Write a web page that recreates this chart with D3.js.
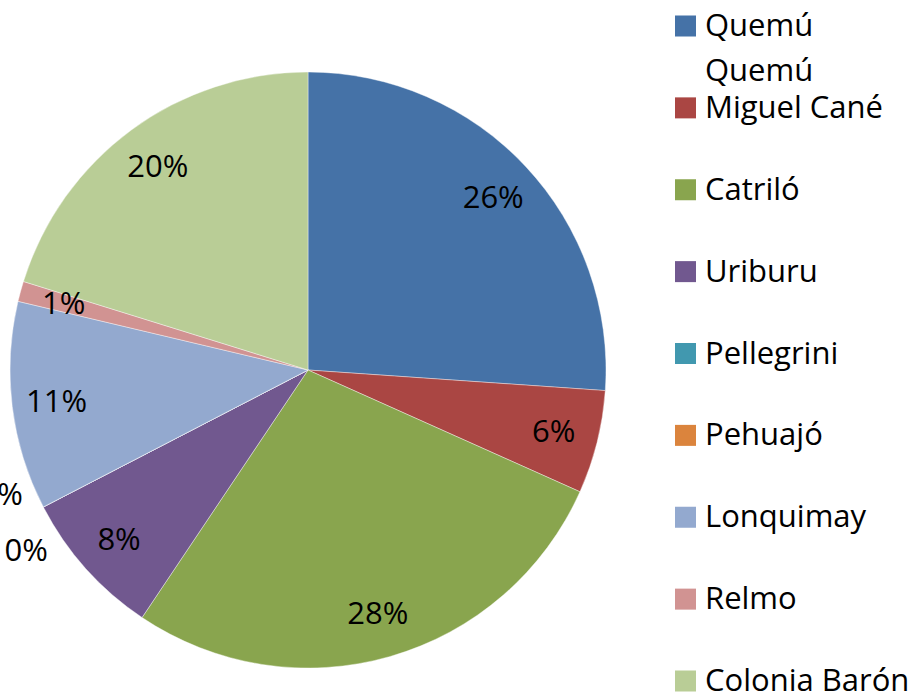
<!DOCTYPE html>
<html>
<head>
<meta charset="utf-8">
<script src="https://cdn.jsdelivr.net/npm/d3@7"></script>
<style>
  html, body { margin: 0; padding: 0; background: #fff; }
  svg { display: block; font-family: "Open Sans", Lato, sans-serif; }
</style>
</head>
<body>
<svg id="chart" width="920" height="694"></svg>
<script>
var categories = ['Quemú Quemú', 'Miguel Cané', 'Catriló', 'Uriburu', 'Pellegrini', 'Pehuajó', 'Lonquimay', 'Relmo', 'Colonia Barón'];
var values = [26.1, 5.6, 27.7, 8.0, 0, 0, 11.3, 1.1, 20.2];
var colors = ['#4572A7', '#AA4643', '#89A54E', '#71588F', '#4198AF', '#DB843D', '#93A9CF', '#D19392', '#B9CD96'];
var legendLines = [['Quemú', 'Quemú'], ['Miguel Cané'], ['Catriló'], ['Uriburu'], ['Pellegrini'], ['Pehuajó'], ['Lonquimay'], ['Relmo'], ['Colonia Barón']];

var svg = d3.select('#chart');
var cx = 308, cy = 370, radius = 298;
var fontSize = 31;

var data = categories.map(function (c, i) {
  return { name: c, value: values[i], color: colors[i], lines: legendLines[i] };
});

var pie = d3.pie().sort(null).value(function (d) { return d.value; });
var arcs = pie(data);
var arc = d3.arc().innerRadius(0).outerRadius(radius);
var labelArc = d3.arc().innerRadius(radius * 0.85).outerRadius(radius * 0.85);

var g = svg.append('g').attr('transform', 'translate(' + cx + ',' + cy + ')');

g.selectAll('path').data(arcs).enter().append('path')
  .attr('d', arc)
  .attr('fill', function (d) { return d.data.color; })
  .attr('stroke', '#fff')
  .attr('stroke-width', 0.4);

var total = d3.sum(values);
function pct(d) { return Math.round(d.data.value / total * 100) + '%'; }

// labels for non-empty slices sit inside
g.selectAll('text.inner').data(arcs.filter(function (d) { return d.data.value > 0; }))
  .enter().append('text')
  .attr('class', 'inner')
  .attr('transform', function (d) { return 'translate(' + labelArc.centroid(d) + ')'; })
  .attr('text-anchor', 'middle')
  .attr('dy', '0.35em')
  .attr('font-size', fontSize)
  .attr('fill', '#000')
  .text(pct);

// empty slices: stacked outside the rim, partly off the canvas
var zeros = arcs.filter(function (d) { return d.data.value === 0; });
var outerArc = d3.arc().innerRadius(radius * 1.07).outerRadius(radius * 1.07);
g.selectAll('text.outer').data(zeros).enter().append('text')
  .attr('class', 'outer')
  .attr('transform', function (d, i) {
    var p = outerArc.centroid(d);
    return 'translate(' + (p[0] - 2 + i * 25) + ',' + (p[1] + 6 + (i - 0.5) * 56) + ')';
  })
  .attr('text-anchor', 'end')
  .attr('dy', '0.35em')
  .attr('font-size', fontSize)
  .attr('fill', '#000')
  .text(pct);

// legend
var rowY = d3.scalePoint().domain(categories).range([26, 681]);
var legend = svg.append('g').attr('transform', 'translate(675,0)');
var items = legend.selectAll('g').data(data).enter().append('g')
  .attr('transform', function (d) { return 'translate(0,' + rowY(d.name) + ')'; });

items.append('rect')
  .attr('x', 0).attr('y', -10.5)
  .attr('width', 21).attr('height', 21)
  .attr('fill', function (d) { return d.color; });

items.append('text')
  .attr('x', 30)
  .attr('y', 10)
  .attr('font-size', fontSize)
  .attr('fill', '#000')
  .selectAll('tspan').data(function (d) { return d.lines; }).enter().append('tspan')
  .attr('x', 30)
  .attr('dy', function (d, i) { return i === 0 ? 0 : 45; })
  .text(function (d) { return d; });
</script>
</body>
</html>
